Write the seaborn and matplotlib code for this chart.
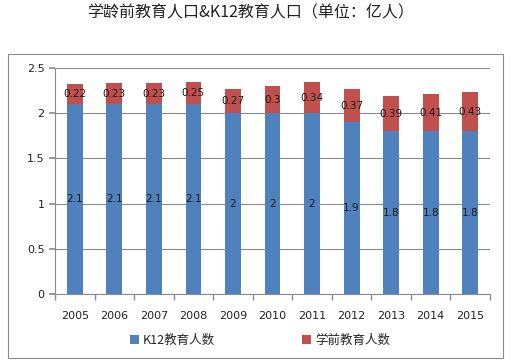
import matplotlib
matplotlib.use("Agg")
import matplotlib.pyplot as plt
import seaborn as sns
import pandas as pd
from matplotlib.patches import Rectangle, Patch

years = ["2005", "2006", "2007", "2008", "2009", "2010", "2011", "2012", "2013", "2014", "2015"]
k12 = [2.1, 2.1, 2.1, 2.1, 2.0, 2.0, 2.0, 1.9, 1.8, 1.8, 1.8]
preschool = [0.22, 0.23, 0.23, 0.25, 0.27, 0.3, 0.34, 0.37, 0.39, 0.41, 0.43]
yticks = [0, 0.5, 1, 1.5, 2, 2.5]
yticklabels = ["0", "0.5", "1", "1.5", "2", "2.5"]

sns.set_theme(style="white")
plt.rcParams['font.family'] = ['Noto Sans CJK SC', 'DejaVu Sans']

blue = "#4F81BD"
red = "#C0504D"

df = pd.DataFrame({"year": years, "k12": k12, "pre": preschool})
df["total"] = df["k12"] + df["pre"]

fig = plt.figure(figsize=(5.11, 3.62), dpi=100)
ax = fig.add_axes([55/511, 1-294/362, (490-55)/511, (294-68)/362])

sns.barplot(data=df, x="year", y="total", color=red, width=0.4, ax=ax,
            saturation=1, linewidth=0, zorder=2)
sns.barplot(data=df, x="year", y="k12", color=blue, width=0.4, ax=ax,
            saturation=1, linewidth=0, zorder=3)

for i, (a, b) in enumerate(zip(k12, preschool)):
    ax.text(i, a/2, f"{a:g}", ha="center", va="center", fontsize=7.5, color="#1a1a1a", zorder=5,
            family="DejaVu Sans")
    ax.text(i, a + b/2, f"{b:g}", ha="center", va="center", fontsize=7.5, color="#1a1a1a", zorder=5,
            family="DejaVu Sans")

ax.set_ylim(0, 2.5)
ax.set_xlim(-0.5, len(years)-0.5)
ax.set_yticks(yticks)
ax.set_yticklabels(yticklabels)
ax.set_xlabel("")
ax.set_ylabel("")
ax.yaxis.grid(True, color="#8c8c8c", linewidth=0.8, zorder=0)
ax.set_axisbelow(True)
for s in ["top", "right"]:
    ax.spines[s].set_visible(False)
for s in ["left", "bottom"]:
    ax.spines[s].set_color("#8c8c8c")
    ax.spines[s].set_linewidth(0.8)

ax.set_xticks(range(len(years)))
ax.set_xticklabels(years, family="DejaVu Sans")
ax.set_xticks([i - 0.5 for i in range(len(years)+1)], minor=True)
ax.tick_params(axis="x", which="major", length=0, labelsize=8, pad=12, colors="#222222")
ax.tick_params(axis="x", which="minor", length=4, direction="out", color="#8c8c8c", bottom=True)
ax.tick_params(axis="y", which="major", length=4, direction="out", color="#8c8c8c", labelsize=8, left=True, colors="#222222")
for lab in ax.get_yticklabels():
    lab.set_family("DejaVu Sans")
    lab.set_color("#222222")

fig.text(250/511, 1-13/362, "学龄前教育人口&K12教育人口（单位：亿人）", ha="center", va="center",
         fontsize=11.5, color="#222222")

handles = [Patch(facecolor=blue, edgecolor="none"), Patch(facecolor=red, edgecolor="none")]
fig.legend(handles, ["K12教育人数", "学前教育人数"], loc="center", bbox_to_anchor=(260/511, 1-340/362),
           ncol=2, frameon=False, fontsize=9, handlelength=0.7, handleheight=0.7,
           columnspacing=7, handletextpad=0.3)

fig.patches.append(Rectangle((8/511, 1-358/362), (503-8)/511, (358-54)/362,
                             transform=fig.transFigure, fill=False, edgecolor="#8c8c8c",
                             linewidth=0.8))

fig.savefig("out.png", dpi=100)
